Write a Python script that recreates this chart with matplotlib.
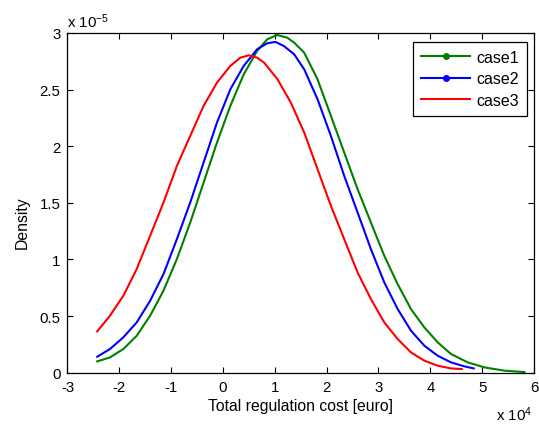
import numpy as np
import matplotlib
matplotlib.use('Agg')
import matplotlib.pyplot as plt
from matplotlib.lines import Line2D
from matplotlib.ticker import FuncFormatter

plt.rcParams['font.family'] = ['Liberation Sans', 'DejaVu Sans']
plt.rcParams['mathtext.default'] = 'regular'

# values: x in 1e4 euro, density in 1e-5
x_case1 = np.array([-2.426, -2.181, -1.923, -1.665, -1.406, -1.148, -0.890, -0.632, -0.374,
                    -0.116, 0.142, 0.400, 0.658, 0.852, 1.045, 1.239, 1.373, 1.567,
                    1.824, 2.082, 2.339, 2.597, 2.854, 3.112, 3.370, 3.627, 3.885,
                    4.142, 4.400, 4.722, 5.044, 5.430, 5.816])
y_case1 = np.array([0.100, 0.135, 0.209, 0.326, 0.503, 0.724, 1.003, 1.326, 1.679,
                    2.032, 2.356, 2.635, 2.841, 2.944, 2.982, 2.959, 2.915, 2.826,
                    2.591, 2.268, 1.944, 1.621, 1.326, 1.032, 0.782, 0.562, 0.400,
                    0.268, 0.165, 0.091, 0.047, 0.018, 0.006])

x_case2 = np.array([-2.426, -2.181, -1.923, -1.665, -1.406, -1.148, -0.890, -0.632, -0.374,
                    -0.116, 0.142, 0.400, 0.658, 0.852, 1.013, 1.174, 1.373, 1.567,
                    1.824, 2.082, 2.339, 2.597, 2.854, 3.112, 3.370, 3.627, 3.885,
                    4.142, 4.400, 4.657, 4.838])
y_case2 = np.array([0.141, 0.209, 0.312, 0.444, 0.635, 0.871, 1.179, 1.503, 1.856,
                    2.209, 2.503, 2.709, 2.856, 2.909, 2.921, 2.885, 2.812, 2.679,
                    2.415, 2.091, 1.738, 1.415, 1.091, 0.797, 0.562, 0.371, 0.238,
                    0.150, 0.091, 0.056, 0.038])

x_case3 = np.array([-2.426, -2.181, -1.923, -1.665, -1.406, -1.148, -0.890, -0.632, -0.374,
                    -0.116, 0.142, 0.335, 0.497, 0.658, 0.794, 1.052, 1.309, 1.567,
                    1.824, 2.082, 2.339, 2.597, 2.854, 3.112, 3.370, 3.627, 3.885,
                    4.142, 4.400, 4.606])
y_case3 = np.array([0.365, 0.503, 0.679, 0.915, 1.209, 1.503, 1.826, 2.091, 2.356,
                    2.562, 2.709, 2.782, 2.803, 2.782, 2.738, 2.591, 2.385, 2.121,
                    1.797, 1.474, 1.179, 0.885, 0.650, 0.444, 0.297, 0.179, 0.106,
                    0.062, 0.038, 0.032])

labels = ['case1', 'case2', 'case3']
colors = ['#008000', '#0000ff', '#ff0000']
xs = [x_case1, x_case2, x_case3]
ys = [y_case1, y_case2, y_case3]

fig = plt.figure(figsize=(5.39, 4.27), dpi=100)
ax = fig.add_axes([0.1252, 0.1248, 0.8655, 0.7956])

for x, y, c in zip(xs, ys, colors):
    ax.plot(x * 1e4, y * 1e-5, color=c, lw=1.5, solid_joinstyle='round')

ax.set_xlim(-3e4, 6e4)
ax.set_ylim(0, 3e-5)
ax.set_xticks(np.arange(-3, 7) * 1e4)
ax.set_yticks(np.arange(0, 3.01, 0.5) * 1e-5)
ax.xaxis.set_major_formatter(FuncFormatter(lambda v, p: '%g' % round(v / 1e4, 3)))
ax.yaxis.set_major_formatter(FuncFormatter(lambda v, p: '%g' % round(v / 1e-5, 3)))
ax.tick_params(direction='in', length=4, width=0.8, top=True, right=True,
               labelsize=10.8, pad=5)
for s in ax.spines.values():
    s.set_linewidth(0.9)

ax.text(0.0, 1.01, r'x 10$^{-5}$', transform=ax.transAxes, fontsize=10.8,
        ha='left', va='bottom')
ax.text(0.995, -0.148, r'x 10$^{4}$', transform=ax.transAxes, fontsize=10.8,
        ha='right', va='bottom')

ax.set_xlabel('Total regulation cost [euro]', fontsize=11.3)
ax.set_ylabel('Density', fontsize=11.3)
ax.xaxis.set_label_coords(0.5, -0.097)
ax.yaxis.set_label_coords(-0.0975, 0.444)
ax.xaxis.label.set_va('center')
ax.yaxis.label.set_va('center')

handles = [Line2D([], [], color=colors[0], lw=1.5, marker='.', markersize=8),
           Line2D([], [], color=colors[1], lw=1.5, marker='.', markersize=8),
           Line2D([], [], color=colors[2], lw=1.5)]
leg = ax.legend(handles, labels, loc='upper right', bbox_to_anchor=(0.985, 0.974),
                borderaxespad=0, fontsize=11.5, handlelength=3.05, labelspacing=0.4,
                fancybox=False, framealpha=1, edgecolor='black', handletextpad=0.4,
                borderpad=0.5)
leg.get_frame().set_linewidth(0.9)

fig.savefig('out.png', dpi=100, facecolor='white')
